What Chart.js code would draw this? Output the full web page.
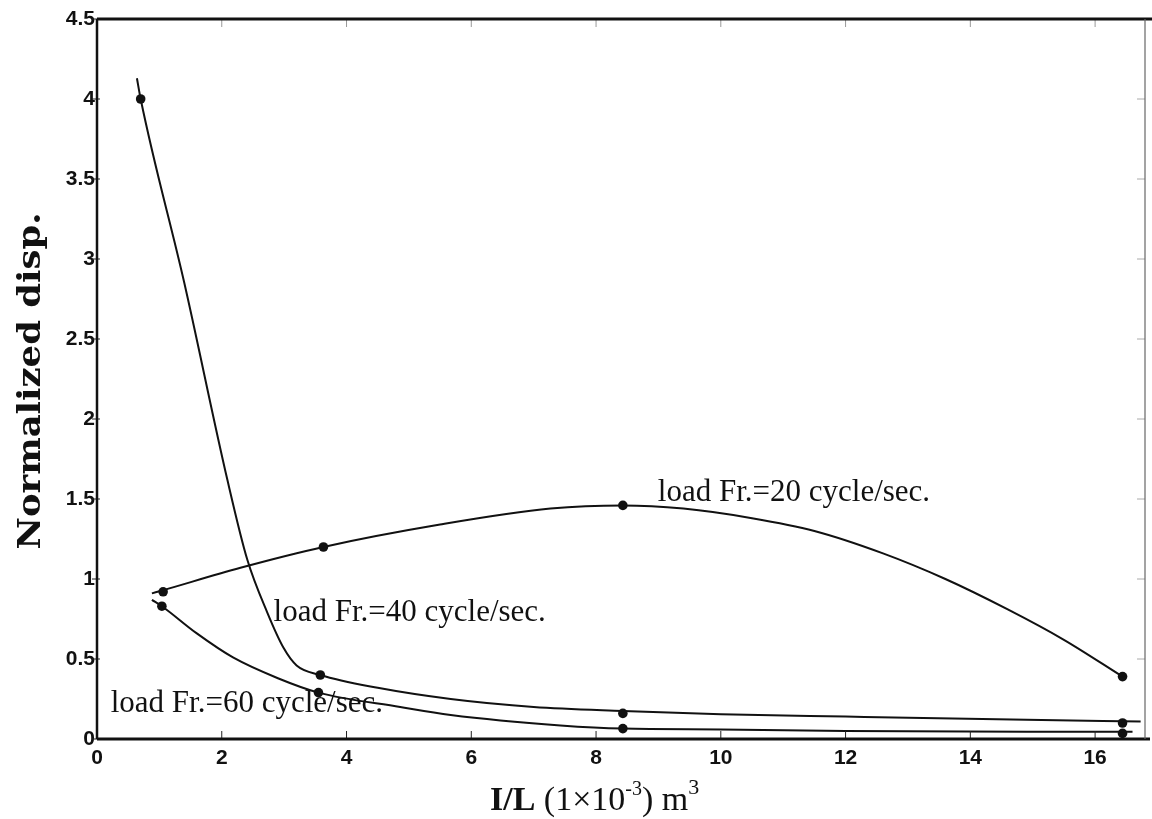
<!DOCTYPE html>
<html>
<head>
<meta charset="utf-8">
<title>Normalized disp. vs I/L</title>
<script src="https://cdn.jsdelivr.net/npm/chart.js@4.4.1/dist/chart.umd.min.js"></script>
<style>
  html, body { margin: 0; padding: 0; background: #fff; }
  #wrap { width: 1152px; height: 819px; position: relative; }
</style>
</head>
<body>
<div id="wrap"><canvas id="chart"></canvas></div>
<script>
'use strict';

// --- data ---
const xTickValues = [0, 2, 4, 6, 8, 10, 12, 14, 16];
const yTickValues = [0, 0.5, 1, 1.5, 2, 2.5, 3, 3.5, 4, 4.5];

// measured points (markers)
const markX20 = [1.06, 3.63, 8.43, 16.44];
const markY20 = [0.92, 1.20, 1.46, 0.39];
const markX40 = [0.70, 3.58, 8.43, 16.44];
const markY40 = [4.00, 0.40, 0.16, 0.10];
const markX60 = [1.04, 3.55, 8.43, 16.44];
const markY60 = [0.83, 0.29, 0.065, 0.035];

// fitted curves
const curveX20 = [0.88, 1.06, 2.30, 3.63, 5.50, 7.27, 8.43, 9.40, 10.5, 11.5, 12.6, 13.6, 14.6, 15.5, 16.44];
const curveY20 = [0.91, 0.93, 1.07, 1.20, 1.34, 1.44, 1.46, 1.44, 1.38, 1.30, 1.16, 1.00, 0.81, 0.62, 0.39];
const curveX40 = [0.64, 0.70, 1.40, 2.09, 2.41, 2.73, 2.99, 3.20, 3.58, 4.50, 5.67, 7.00, 8.43, 10.0, 12.0, 14.9, 16.73];
const curveY40 = [4.13, 4.00, 2.85, 1.62, 1.12, 0.79, 0.57, 0.46, 0.40, 0.32, 0.25, 0.20, 0.175, 0.155, 0.14, 0.12, 0.11];
const curveX60 = [0.88, 1.04, 1.60, 2.18, 2.90, 3.55, 4.86, 5.67, 7.43, 8.43, 10.0, 12.0, 14.9, 16.6];
const curveY60 = [0.87, 0.83, 0.66, 0.51, 0.38, 0.29, 0.20, 0.15, 0.085, 0.065, 0.06, 0.05, 0.045, 0.045];

const noteTexts = ['load Fr.=20 cycle/sec.', 'load Fr.=40 cycle/sec.', 'load Fr.=60 cycle/sec.'];

const toPts = (xs, ys) => xs.map((x, i) => ({ x, y: ys[i] }));

const curveStyle = {
  showLine: true, pointRadius: 0, borderColor: '#111', borderWidth: 2,
  cubicInterpolationMode: 'monotone', fill: false
};
const markStyle = {
  showLine: false, pointRadius: 4.8, pointBackgroundColor: '#111',
  pointBorderColor: '#111', pointBorderWidth: 0
};

// frame, inner ticks, axis titles and curve labels
const decor = {
  id: 'decor',
  afterDraw(chart) {
    const { ctx, chartArea: a, scales: { x, y } } = chart;
    ctx.save();

    // tick marks
    ctx.lineWidth = 1;
    xTickValues.forEach(v => {
      const px = x.getPixelForValue(v);
      ctx.strokeStyle = '#222';
      ctx.beginPath(); ctx.moveTo(px, a.bottom); ctx.lineTo(px, a.bottom - 8); ctx.stroke();
      ctx.strokeStyle = '#999';
      ctx.beginPath(); ctx.moveTo(px, a.top); ctx.lineTo(px, a.top + 8); ctx.stroke();
    });
    yTickValues.forEach(v => {
      const py = y.getPixelForValue(v);
      ctx.strokeStyle = '#222';
      ctx.beginPath(); ctx.moveTo(a.left - 5, py); ctx.lineTo(a.left + 3, py); ctx.stroke();
      ctx.strokeStyle = '#aaa';
      ctx.beginPath(); ctx.moveTo(a.right, py); ctx.lineTo(a.right - 8, py); ctx.stroke();
    });

    // frame
    ctx.strokeStyle = '#111';
    ctx.lineWidth = 3;
    ctx.beginPath(); ctx.moveTo(a.left, a.top); ctx.lineTo(chart.width, a.top); ctx.stroke();
    ctx.beginPath(); ctx.moveTo(a.left, a.bottom); ctx.lineTo(chart.width - 2, a.bottom); ctx.stroke();
    ctx.lineWidth = 2.5;
    ctx.beginPath(); ctx.moveTo(a.left, a.top); ctx.lineTo(a.left, a.bottom); ctx.stroke();
    ctx.strokeStyle = '#666';
    ctx.lineWidth = 1.2;
    ctx.beginPath(); ctx.moveTo(a.right, a.top); ctx.lineTo(a.right, a.bottom); ctx.stroke();

    // curve labels
    ctx.fillStyle = '#111';
    ctx.font = '31px "Liberation Serif", "Times New Roman", serif';
    ctx.textBaseline = 'alphabetic';
    ctx.textAlign = 'left';
    ctx.fillText(noteTexts[0], x.getPixelForValue(8.99), y.getPixelForValue(1.49));
    ctx.fillText(noteTexts[1], x.getPixelForValue(2.83), y.getPixelForValue(0.74));
    ctx.fillText(noteTexts[2], x.getPixelForValue(0.22), y.getPixelForValue(0.17));

    // y title
    ctx.save();
    ctx.translate(32, (a.top + a.bottom) / 2 + 2);
    ctx.rotate(-Math.PI / 2);
    ctx.font = 'bold 31px "DejaVu Serif", serif';
    const yt = 'Normalized disp.';
    const w = ctx.measureText(yt).width;
    ctx.scale(337 / w, 1);
    ctx.textAlign = 'center';
    ctx.textBaseline = 'middle';
    ctx.fillText(yt, 0, 0);
    ctx.restore();

    // x title with superscripts
    const parts = [
      { t: 'I/L', f: 'bold 34px "Liberation Serif", serif', dy: 0 },
      { t: ' (1\u00d710', f: '34px "Liberation Serif", serif', dy: 0 },
      { t: '-3', f: '20px "Liberation Serif", serif', dy: -15 },
      { t: ') m', f: '34px "Liberation Serif", serif', dy: 0 },
      { t: '3', f: '22px "Liberation Serif", serif', dy: -16 }
    ];
    parts.forEach(p => { ctx.font = p.f; p.w = ctx.measureText(p.t).width; });
    let cx = 490;
    const base = 810;
    ctx.textAlign = 'left';
    parts.forEach(p => { ctx.font = p.f; ctx.fillText(p.t, cx, base + p.dy); cx += p.w; });

    ctx.restore();
  }
};

const tickFont = { family: '"Liberation Sans", Arial, sans-serif', size: 21, weight: 'bold' };

new Chart(document.getElementById('chart'), {
  type: 'scatter',
  data: {
    datasets: [
      { ...curveStyle, data: toPts(curveX20, curveY20) },
      { ...curveStyle, data: toPts(curveX40, curveY40) },
      { ...curveStyle, data: toPts(curveX60, curveY60) },
      { ...markStyle, data: toPts(markX20, markY20) },
      { ...markStyle, data: toPts(markX40, markY40) },
      { ...markStyle, data: toPts(markX60, markY60) }
    ]
  },
  options: {
    responsive: true, maintainAspectRatio: false, animation: false,
    layout: { padding: { top: 19, right: 7, left: 0, bottom: 0 } },
    plugins: { legend: { display: false }, tooltip: { enabled: false } },
    scales: {
      x: {
        type: 'linear', min: 0, max: 16.8,
        grid: { display: false, drawTicks: false }, border: { display: false },
        ticks: { font: tickFont, color: '#111', padding: 7, callback: v => String(v) },
        afterBuildTicks: s => { s.ticks = xTickValues.map(v => ({ value: v })); },
        afterFit: s => { s.height = 80; }
      },
      y: {
        type: 'linear', min: 0, max: 4.5,
        grid: { display: false, drawTicks: false }, border: { display: false },
        ticks: { font: tickFont, color: '#111', padding: 2, callback: v => String(v) },
        afterBuildTicks: s => { s.ticks = yTickValues.map(v => ({ value: v })); },
        afterFit: s => { s.width = 97; }
      }
    }
  },
  plugins: [decor]
});
</script>
</body>
</html>
